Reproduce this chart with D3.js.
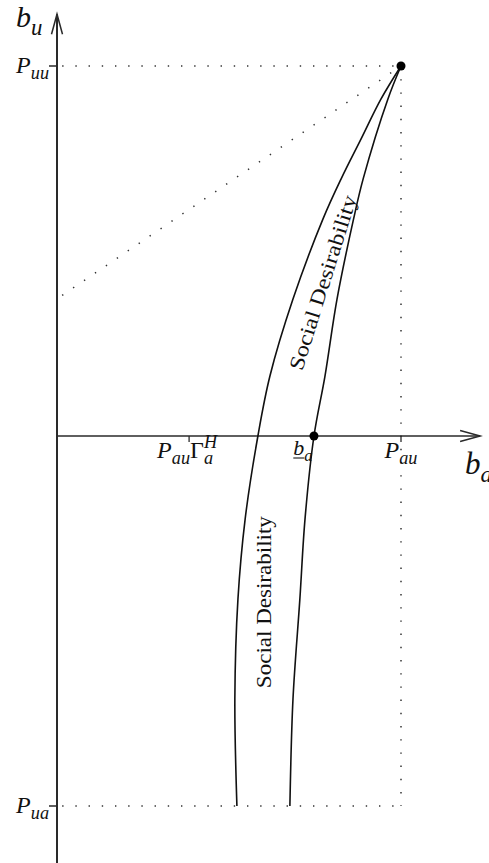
<!DOCTYPE html>
<html lang="en">
<head>
  <style>
    body { margin: 0; background: #fff; }
    .axis { stroke: #2a2a2a; fill: none; }
    .curve { fill: none; stroke: #111; stroke-width: 1.6px; }
    .dots { fill: none; stroke: #333; stroke-width: 1.5px; stroke-dasharray: 1.4 11.8; }
    .math { font-family: "Liberation Serif", serif; font-style: italic; fill: #111; }
    .band-label { font-family: "Liberation Serif", serif; font-size: 21px; fill: #111; }
  </style>
  <script src="https://d3js.org/d3.v7.min.js"></script>
</head>
<body>
  <script>
    // boundary curves, (b_a, b_u) with P_au = 1, P_uu = 1, P_ua = -1
    const leftCurve = [
      [1, 1], [0.942, 0.911], [0.884, 0.803], [0.826, 0.695], [0.773, 0.586],
      [0.686, 0.370], [0.619, 0.162], [0.584, 0], [0.547, -0.224],
      [0.526, -0.441], [0.517, -0.711], [0.523, -1]
    ];
    const rightCurve = [
      [1, 1], [0.962, 0.911], [0.890, 0.695], [0.862, 0.586], [0.814, 0.370],
      [0.779, 0.162], [0.747, 0], [0.721, -0.224], [0.706, -0.441],
      [0.686, -0.711], [0.677, -1]
    ];
    const dotLine = [[0.015, 0.38], [1, 1]];
    const points = [[1, 1], [0.747, 0]];
    const gammaH = 0.384;
    const bandLabels = [
      { text: "Social Desirability", x: 0.772, y: 0.415, angle: -72.5, len: 182 },
      { text: "Social Desirability", x: 0.602, y: -0.449, angle: -90, len: 172 }
    ];

    const W = 489, H = 863;
    const svg = d3.select("body").append("svg")
      .attr("width", W).attr("height", H);

    const x = d3.scaleLinear().domain([0, 1]).range([57, 401]);
    const y = d3.scaleLinear().domain([-1, 1]).range([806, 66]);

    // dotted guides
    const g0 = svg.append("g");
    g0.append("line").attr("class", "dots")
      .attr("x1", x(0.015)).attr("y1", y(1)).attr("x2", x(1)).attr("y2", y(1));
    g0.append("line").attr("class", "dots")
      .attr("x1", x(0.015)).attr("y1", y(-1)).attr("x2", x(1)).attr("y2", y(-1));
    g0.append("line").attr("class", "dots")
      .attr("x1", x(1)).attr("y1", y(1)).attr("x2", x(1)).attr("y2", y(-1));
    g0.append("path").attr("class", "dots")
      .attr("d", d3.line().x(d => x(d[0])).y(d => y(d[1]))(dotLine));

    // axes
    const xEnd = x(1.23), yTop = y(1.14);
    svg.append("line").attr("class", "axis").style("stroke-width", 2)
      .attr("x1", x(0)).attr("y1", H).attr("x2", x(0)).attr("y2", yTop);
    svg.append("line").attr("class", "axis").style("stroke-width", 1.5)
      .attr("x1", x(0)).attr("y1", y(0)).attr("x2", xEnd).attr("y2", y(0));
    svg.append("path").attr("class", "axis").style("stroke-width", 1.5)
      .attr("d", `M${x(0) - 5.5},${yTop + 20}L${x(0)},${yTop}L${x(0) + 5.5},${yTop + 20}`);
    svg.append("path").attr("class", "axis").style("stroke-width", 1.5)
      .attr("d", `M${xEnd - 20},${y(0) - 5.5}L${xEnd},${y(0)}L${xEnd - 20},${y(0) + 5.5}`);

    // ticks
    [1, -1].forEach(v => svg.append("line").attr("class", "axis").style("stroke-width", 1.5)
      .attr("x1", x(0) - 8).attr("x2", x(0)).attr("y1", y(v)).attr("y2", y(v)));
    [gammaH, 1].forEach(v => svg.append("line").attr("class", "axis").style("stroke-width", 1.3)
      .attr("x1", x(v)).attr("x2", x(v)).attr("y1", y(0)).attr("y2", y(0) + 6));

    // curves
    const line = d3.line().x(d => x(d[0])).y(d => y(d[1])).curve(d3.curveCatmullRom.alpha(0.5));
    svg.append("path").datum(leftCurve).attr("class", "curve").attr("d", line);
    svg.append("path").datum(rightCurve).attr("class", "curve").attr("d", line);

    svg.selectAll("circle").data(points).join("circle")
      .attr("cx", d => x(d[0])).attr("cy", d => y(d[1])).attr("r", 4.5).attr("fill", "#000");

    svg.selectAll(".band-label").data(bandLabels).join("text")
      .attr("class", "band-label")
      .attr("transform", d => `translate(${x(d.x)},${y(d.y)}) rotate(${d.angle})`)
      .attr("text-anchor", "middle").attr("dy", "0.35em")
      .attr("textLength", d => d.len).attr("lengthAdjust", "spacingAndGlyphs")
      .text(d => d.text);

    // math labels
    function mathLabel(px, py, anchor, size, parts) {
      const t = svg.append("text").attr("class", "math")
        .attr("x", px).attr("y", py).attr("text-anchor", anchor)
        .style("font-size", size + "px");
      let shift = 0, prev = null;
      parts.forEach(p => {
        const s = t.append("tspan").text(p.t);
        let target = 0;
        if (p.sub) { s.style("font-size", (size * 0.76) + "px"); target = size * 0.25; }
        if (p.sup) { s.style("font-size", (size * 0.76) + "px"); target = -size * 0.42; }
        if (p.upright) s.style("font-style", "normal");
        s.attr("dy", target - shift);
        shift = target;
        if (p.stack && prev) s.attr("dx", -prev.node().getComputedTextLength());
        prev = s;
      });
      return t;
    }

    mathLabel(16, 27, "start", 30, [{ t: "b" }, { t: "u", sub: true }]);
    mathLabel(465, 474, "start", 31, [{ t: "b" }, { t: "a", sub: true }]);
    mathLabel(x(0) - 8, y(1) + 7, "end", 24, [{ t: "P" }, { t: "uu", sub: true }]);
    mathLabel(x(0) - 8, y(-1) + 7, "end", 24, [{ t: "P" }, { t: "ua", sub: true }]);
    mathLabel(x(1), y(0) + 22, "middle", 24, [{ t: "P" }, { t: "au", sub: true }]);
    mathLabel(x(gammaH) - 2, y(0) + 22, "middle", 24, [
      { t: "P" }, { t: "au", sub: true }, { t: "\u0393", upright: true },
      { t: "a", sub: true }, { t: "H", sup: true, stack: true }
    ]);
    const bl = mathLabel(x(0.747) - 11, y(0) + 19, "middle", 22, [{ t: "b" }, { t: "a", sub: true }]);
    const bb = bl.node().getExtentOfChar(0);
    svg.append("line").attr("class", "axis").style("stroke-width", 1.2)
      .attr("x1", bb.x).attr("x2", bb.x + bb.width)
      .attr("y1", y(0) + 22).attr("y2", y(0) + 22);
  </script>
</body>
</html>
